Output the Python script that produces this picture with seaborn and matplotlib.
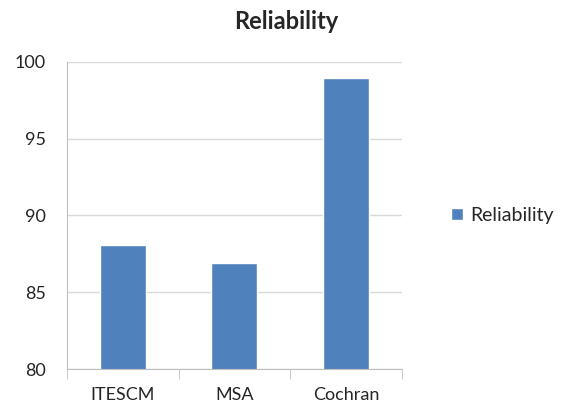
import pandas as pd
import matplotlib.pyplot as plt
import seaborn as sns
from matplotlib.ticker import FixedLocator

categories = ["ITESCM", "MSA", "Cochran"]
reliability = [88.08, 86.93, 98.94]
series_name = "Reliability"

df = pd.DataFrame({"Method": categories, "Value": reliability, "Series": series_name})

sns.set_style("white")
plt.rcParams['font.family'] = ['Lato', 'DejaVu Sans']

fig = plt.figure(figsize=(5.62, 4.12), dpi=100)
ax = fig.add_axes([0.119, 0.104, 0.596, 0.746])

sns.barplot(ax=ax, data=df, x="Method", y="Value", hue="Series",
            palette=["#4F81BD"], saturation=1, width=0.41, legend=True)

ax.set_ylim(80, 100)
ax.set_xlim(-0.5, 2.5)
ax.set_yticks([80, 85, 90, 95, 100])
ax.yaxis.grid(True, color="#d9d9d9", linewidth=1)
ax.set_axisbelow(True)
ax.set_xlabel("")
ax.set_ylabel("")
# chart title is centred on the whole chart area, not on the plot
fig.suptitle("Reliability", x=0.509, y=0.947, va="center",
             fontsize=17, fontweight="bold")

for side in ["top", "right"]:
    ax.spines[side].set_visible(False)
for side in ["left", "bottom"]:
    ax.spines[side].set_color("#bfbfbf")

ax.tick_params(axis="y", which="major", length=7, color="#bfbfbf", labelsize=13, pad=8)
ax.tick_params(axis="x", which="major", length=0, labelsize=13, pad=13)
ax.xaxis.set_minor_locator(FixedLocator([-0.5, 0.5, 1.5, 2.5]))
ax.tick_params(axis="x", which="minor", length=7, color="#bfbfbf", bottom=True)

leg = ax.legend(loc="center left", bbox_to_anchor=(1.095, 0.5), frameon=False,
                fontsize=14, handlelength=0.6, handleheight=0.6, handletextpad=0.4)

fig.savefig("out.png", dpi=100)
